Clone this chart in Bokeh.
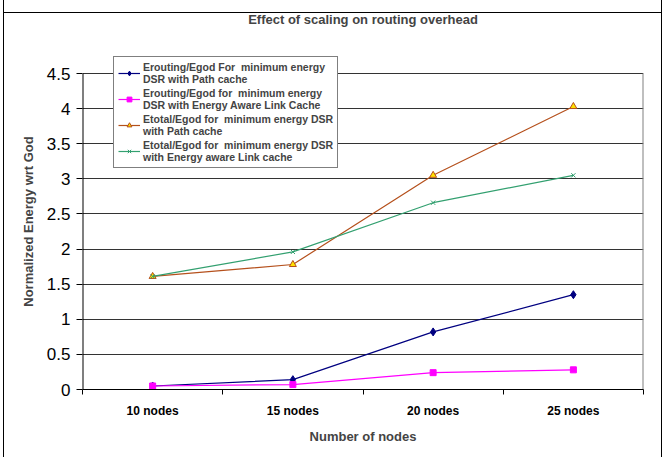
from bokeh.plotting import figure
from bokeh.models import FixedTicker, Legend, LegendItem, Title
from bokeh.embed import file_html
from bokeh.resources import INLINE

categories = ["10 nodes", "15 nodes", "20 nodes", "25 nodes"]
erouting_path = [0.05, 0.14, 0.82, 1.35]
erouting_ealc = [0.05, 0.07, 0.24, 0.28]
etotal_path = [1.61, 1.78, 3.05, 4.03]
etotal_ealc = [1.61, 1.96, 2.66, 3.05]
y_ticks = [0, 0.5, 1, 1.5, 2, 2.5, 3, 3.5, 4, 4.5]

labels = [
    "Erouting/Egod For  minimum energy\nDSR with Path cache",
    "Erouting/Egod for  minimum energy\nDSR with Energy Aware Link Cache",
    "Etotal/Egod for  minimum energy DSR\nwith Path cache",
    "Etotal/Egod for  minimum energy DSR\nwith Energy aware Link cache",
]

n = len(categories)
xs = [i + 0.5 for i in range(n)]
y_top = y_ticks[-1]
FONT = "Liberation Sans"

# frame extends above the top tick so the legend can stick out above it
px_per_unit = 316 / 4.5
y_end = y_top + 20 / px_per_unit

p = figure(width=659, height=458, output_backend="svg", toolbar_location=None,
           x_range=(0, n), y_range=(0, y_end),
           min_border_left=78, min_border_right=20, min_border_top=53, min_border_bottom=69)
p.margin = (0, 0, 0, 3)
p.styles = {
    "border-left": "1px solid black",
    "border-right": "1px solid black",
    "border-bottom": "1px solid black",
    "background": "linear-gradient(black, black) 0 12px / 100% 1px no-repeat, white",
}

p.title.text = "Effect of scaling on routing overhead"
p.title.align = "center"
p.title.text_font = FONT
p.title.text_font_size = "13px"
p.title.text_font_style = "bold"
# empty spacer between title and frame
p.add_layout(Title(text=" ", text_font_size="9px"), "above")

p.outline_line_color = None
p.background_fill_color = "white"
p.border_fill_alpha = 0

p.xgrid.grid_line_color = None
p.ygrid.grid_line_color = "#333333"
p.ygrid.grid_line_width = 1
p.ygrid.ticker = FixedTicker(ticks=y_ticks)

p.xaxis.ticker = FixedTicker(ticks=xs, minor_ticks=list(range(n + 1)))
p.xaxis.major_label_overrides = {x: c for x, c in zip(xs, categories)}
p.xaxis.major_tick_line_color = None
p.xaxis.minor_tick_line_color = "black"
p.xaxis.minor_tick_out = 5
p.xaxis.minor_tick_in = 0
p.xaxis.major_label_standoff = 8
p.xaxis.major_label_text_font = FONT
p.xaxis.major_label_text_font_size = "12px"
p.xaxis.major_label_text_font_style = "bold"
p.xaxis.major_label_text_color = "black"
p.xaxis.axis_label = "Number of nodes"
p.xaxis.axis_label_text_font = FONT
p.xaxis.axis_label_text_font_size = "13px"
p.xaxis.axis_label_text_font_style = "bold"
p.xaxis.axis_label_standoff = 8
p.xaxis.axis_line_color = "black"

p.yaxis.ticker = FixedTicker(ticks=y_ticks)
p.yaxis.major_label_overrides = {0: "0", 1: "1", 2: "2", 3: "3", 4: "4"}
p.yaxis.minor_tick_line_color = None
p.yaxis.major_tick_out = 6
p.yaxis.major_tick_in = 0
p.yaxis.major_tick_line_color = "black"
p.yaxis.major_label_standoff = 6
p.yaxis.major_label_text_font = FONT
p.yaxis.major_label_text_font_size = "17px"
p.yaxis.major_label_text_color = "black"
p.yaxis.axis_label = "Normalized Energy wrt God"
p.yaxis.axis_label_text_font = FONT
p.yaxis.axis_label_text_font_size = "13px"
p.yaxis.axis_label_text_font_style = "bold"
p.yaxis.axis_label_standoff = 8
p.yaxis.axis_line_color = None

# axis line and right border only up to the top tick
p.segment(x0=[0], y0=[0], x1=[0], y1=[y_top], line_color="black", line_width=2)
p.segment(x0=[n], y0=[0], x1=[n], y1=[y_top], line_color="#808080", line_width=2)

series = [
    (erouting_path, "#000080", "diamond", "#000080", "#000080", 8),
    (erouting_ealc, "#FF00FF", "square", "#FF00FF", "#FF00FF", 6),
    (etotal_path, "#B5501C", "triangle", "#B5501C", "#FFE000", 7),
    (etotal_ealc, "#33A070", "x", "#33A070", "#33A070", 6),
]
items = []
for (vals, lc, mk, mlc, mfc, sz), lab in zip(series, labels):
    r1 = p.line(xs, vals, line_color=lc, line_width=1.2)
    r2 = p.scatter(xs, vals, marker=mk, size=sz, line_color=mlc, fill_color=mfc)
    items.append(LegendItem(label=lab, renderers=[r1, r2]))

legend = Legend(items=items, location=(31, 221))
legend.label_text_font = FONT
legend.label_text_font_size = "10.5px"
legend.label_text_font_style = "bold"
legend.label_text_line_height = 1.3
legend.label_standoff = 3
legend.glyph_width = 22
legend.glyph_height = 12
legend.spacing = 2
legend.padding = 4
legend.margin = 0
legend.border_line_color = "black"
legend.border_line_width = 1
legend.background_fill_color = "white"
legend.background_fill_alpha = 1
p.add_layout(legend)

open("out.html", "w").write(file_html(p, INLINE))
